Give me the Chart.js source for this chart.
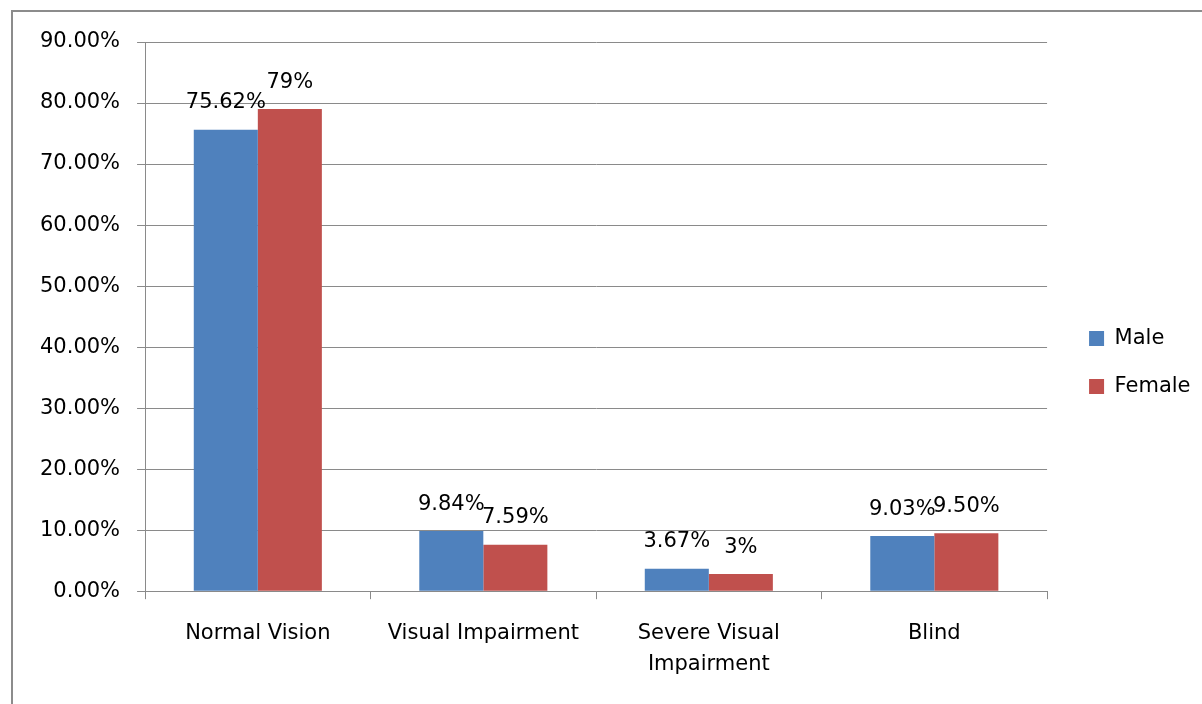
<!DOCTYPE html>
<html>
<head>
<meta charset="utf-8">
<script src="https://cdn.jsdelivr.net/npm/chart.js@4/dist/chart.umd.min.js"></script>
<style>
  html, body { margin: 0; padding: 0; background: #ffffff; }
  #wrap { position: relative; width: 1202px; height: 704px; }
</style>
</head>
<body>
<div id="wrap"><canvas id="c" width="1202" height="704"></canvas></div>
<script>
const categories = ['Normal Vision', 'Visual Impairment', ['Severe Visual', 'Impairment'], 'Blind'];
const maleValues = [75.62, 9.84, 3.67, 9.03];
const femaleValues = [79, 7.59, 2.8, 9.5];
const maleLabels = ['75.62%', '9.84%', '3.67%', '9.03%'];
const femaleLabels = ['79%', '7.59%', '3%', '9.50%'];
const seriesNames = ['Male', 'Female'];
const yTicks = [0, 10, 20, 30, 40, 50, 60, 70, 80, 90];

const FONT = 'DejaVu Sans';
const GRID = '#8a8a8a';

const frame = {
  id: 'frame',
  beforeDraw(chart) {
    const ctx = chart.ctx;
    ctx.save();
    ctx.fillStyle = '#ffffff';
    ctx.fillRect(0, 0, chart.width, chart.height);
    ctx.strokeStyle = '#8c8c8c';
    ctx.lineWidth = 2;
    ctx.beginPath();
    ctx.moveTo(12, chart.height);
    ctx.lineTo(12, 11);
    ctx.lineTo(chart.width, 11);
    ctx.stroke();
    ctx.restore();
  }
};

const legendShift = {
  id: 'legendShift',
  afterLayout(chart) {
    if (chart.legend) {
      chart.legend.top -= 8;
      chart.legend.bottom -= 8;
    }
  }
};

const valueLabels = {
  id: 'valueLabels',
  afterDatasetsDraw(chart) {
    const ctx = chart.ctx;
    const texts = [maleLabels, femaleLabels];
    ctx.save();
    ctx.font = '21px "' + FONT + '"';
    ctx.fillStyle = '#000000';
    ctx.textAlign = 'center';
    ctx.textBaseline = 'middle';
    chart.data.datasets.forEach((ds, di) => {
      chart.getDatasetMeta(di).data.forEach((bar, i) => {
        ctx.fillText(texts[di][i], bar.x, bar.y - 27);
      });
    });
    ctx.restore();
  }
};

new Chart(document.getElementById('c'), {
  type: 'bar',
  data: {
    labels: categories,
    datasets: [
      { label: seriesNames[0], data: maleValues, backgroundColor: '#4F81BD', borderWidth: 0 },
      { label: seriesNames[1], data: femaleValues, backgroundColor: '#C0504D', borderWidth: 0 }
    ]
  },
  options: {
    responsive: false,
    animation: false,
    devicePixelRatio: 1,
    layout: { padding: { left: 23, right: 1.5, top: 42, bottom: 5 } },
    datasets: { bar: { categoryPercentage: 0.568, barPercentage: 1 } },
    plugins: {
      tooltip: { enabled: false },
      legend: {
        position: 'right',
        labels: {
          boxWidth: 15,
          boxHeight: 15,
          padding: 27,
          color: '#000000',
          font: { family: FONT, size: 21 }
        }
      }
    },
    scales: {
      x: {
        offset: true,
        grid: { display: true, drawOnChartArea: false, drawTicks: true, tickLength: 8, color: GRID, offset: true },
        border: { display: true, color: GRID, width: 1 },
        ticks: { color: '#000000', padding: 18, font: { family: FONT, size: 21, lineHeight: 1.52 }, maxRotation: 0, autoSkip: false }
      },
      y: {
        min: 0,
        max: 90,
        afterBuildTicks(scale) { scale.ticks = yTicks.map(v => ({ value: v })); },
        grid: { color: GRID, tickLength: 8, drawTicks: true },
        border: { display: true, color: GRID, width: 1 },
        ticks: {
          color: '#000000',
          padding: 17,
          font: { family: FONT, size: 21 },
          callback: (v) => Number(v).toFixed(2) + '%'
        }
      },
      gap: {
        position: 'right',
        display: true,
        grid: { display: false, drawTicks: false },
        border: { display: false },
        ticks: { display: false },
        afterFit(scale) { scale.width = 15; }
      }
    }
  },
  plugins: [frame, legendShift, valueLabels]
});
</script>
</body>
</html>
